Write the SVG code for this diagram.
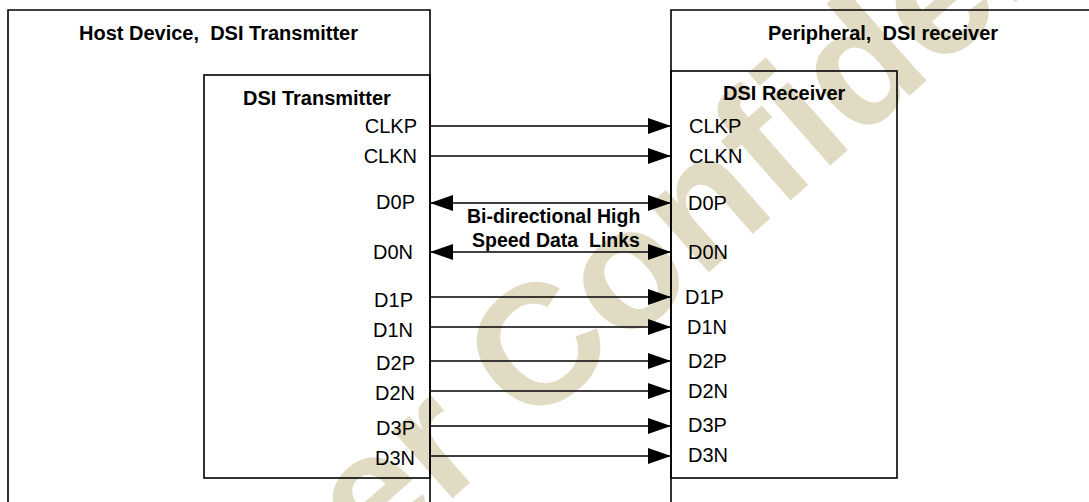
<svg xmlns="http://www.w3.org/2000/svg" width="1089" height="502" viewBox="0 0 1089 502">
<style>
text{font-family:"Liberation Sans",Arial,sans-serif;fill:#000}
.t{font-size:20px;font-weight:bold}
.p{font-size:20px}
.l{text-anchor:end}
.box{fill:none;stroke:#000;stroke-width:1.6}
.w{font-size:171px;font-weight:bold;fill:#e2dbc4}
.c line{stroke:#000;stroke-width:1.6;marker-end:url(#ah)}
.c line.bi{marker-start:url(#ah)}
</style>
<defs>
<marker id="ah" markerUnits="userSpaceOnUse" markerWidth="23" markerHeight="16" refX="23" refY="8" orient="auto-start-reverse" viewBox="0 0 23 16">
<path d="M0,0 L23,8 L0,16 Z" fill="#000"/>
</marker>
</defs>
<rect width="1089" height="502" fill="#fff"/>
<text class="w" transform="translate(529,431) rotate(-41.4)" x="-209" y="0" xml:space="preserve">er Confidential</text>
<g id="host">
<path class="box" d="M8,510 V10 H430 V510"/>
<text class="t" x="79" y="40" xml:space="preserve">Host Device,  DSI Transmitter</text>
</g>
<g id="transmitter">
<rect class="box" x="204" y="75" width="226" height="403"/>
<text class="t" x="243" y="105">DSI Transmitter</text>
<text class="p l" x="417" y="133">CLKP</text>
<text class="p l" x="417" y="163">CLKN</text>
<text class="p l" x="415" y="209">D0P</text>
<text class="p l" x="413" y="259">D0N</text>
<text class="p l" x="413" y="307">D1P</text>
<text class="p l" x="413" y="337">D1N</text>
<text class="p l" x="415" y="370">D2P</text>
<text class="p l" x="415" y="400">D2N</text>
<text class="p l" x="415" y="435">D3P</text>
<text class="p l" x="415" y="465">D3N</text>
</g>
<g id="peripheral">
<path class="box" d="M671,510 V10 H1095"/>
<text class="t" x="768" y="40" xml:space="preserve">Peripheral,  DSI receiver</text>
</g>
<g id="receiver">
<rect class="box" x="671" y="71" width="226" height="407"/>
<text class="t" x="723" y="100">DSI Receiver</text>
<text class="p" x="689" y="133">CLKP</text>
<text class="p" x="689" y="163">CLKN</text>
<text class="p" x="688" y="210">D0P</text>
<text class="p" x="688" y="259">D0N</text>
<text class="p" x="685" y="304">D1P</text>
<text class="p" x="687" y="334">D1N</text>
<text class="p" x="688" y="368">D2P</text>
<text class="p" x="688" y="398">D2N</text>
<text class="p" x="688" y="432">D3P</text>
<text class="p" x="688" y="462">D3N</text>
</g>
<g id="connectors" class="c">
<line x1="430" y1="126" x2="671" y2="126"/>
<line x1="430" y1="156" x2="671" y2="156"/>
<line class="bi" x1="430" y1="203" x2="671" y2="203"/>
<line class="bi" x1="430" y1="252" x2="671" y2="252"/>
<line x1="430" y1="297" x2="671" y2="297"/>
<line x1="430" y1="327" x2="671" y2="327"/>
<line x1="430" y1="361" x2="671" y2="361"/>
<line x1="430" y1="391" x2="671" y2="391"/>
<line x1="430" y1="426" x2="671" y2="426"/>
<line x1="430" y1="456" x2="671" y2="456"/>
</g>
<g id="link-label">
<text class="t" x="467" y="223" style="font-size:19.5px">Bi-directional High</text>
<text class="t" x="472" y="247" style="font-size:19.5px" xml:space="preserve">Speed Data  Links</text>
</g>
</svg>
